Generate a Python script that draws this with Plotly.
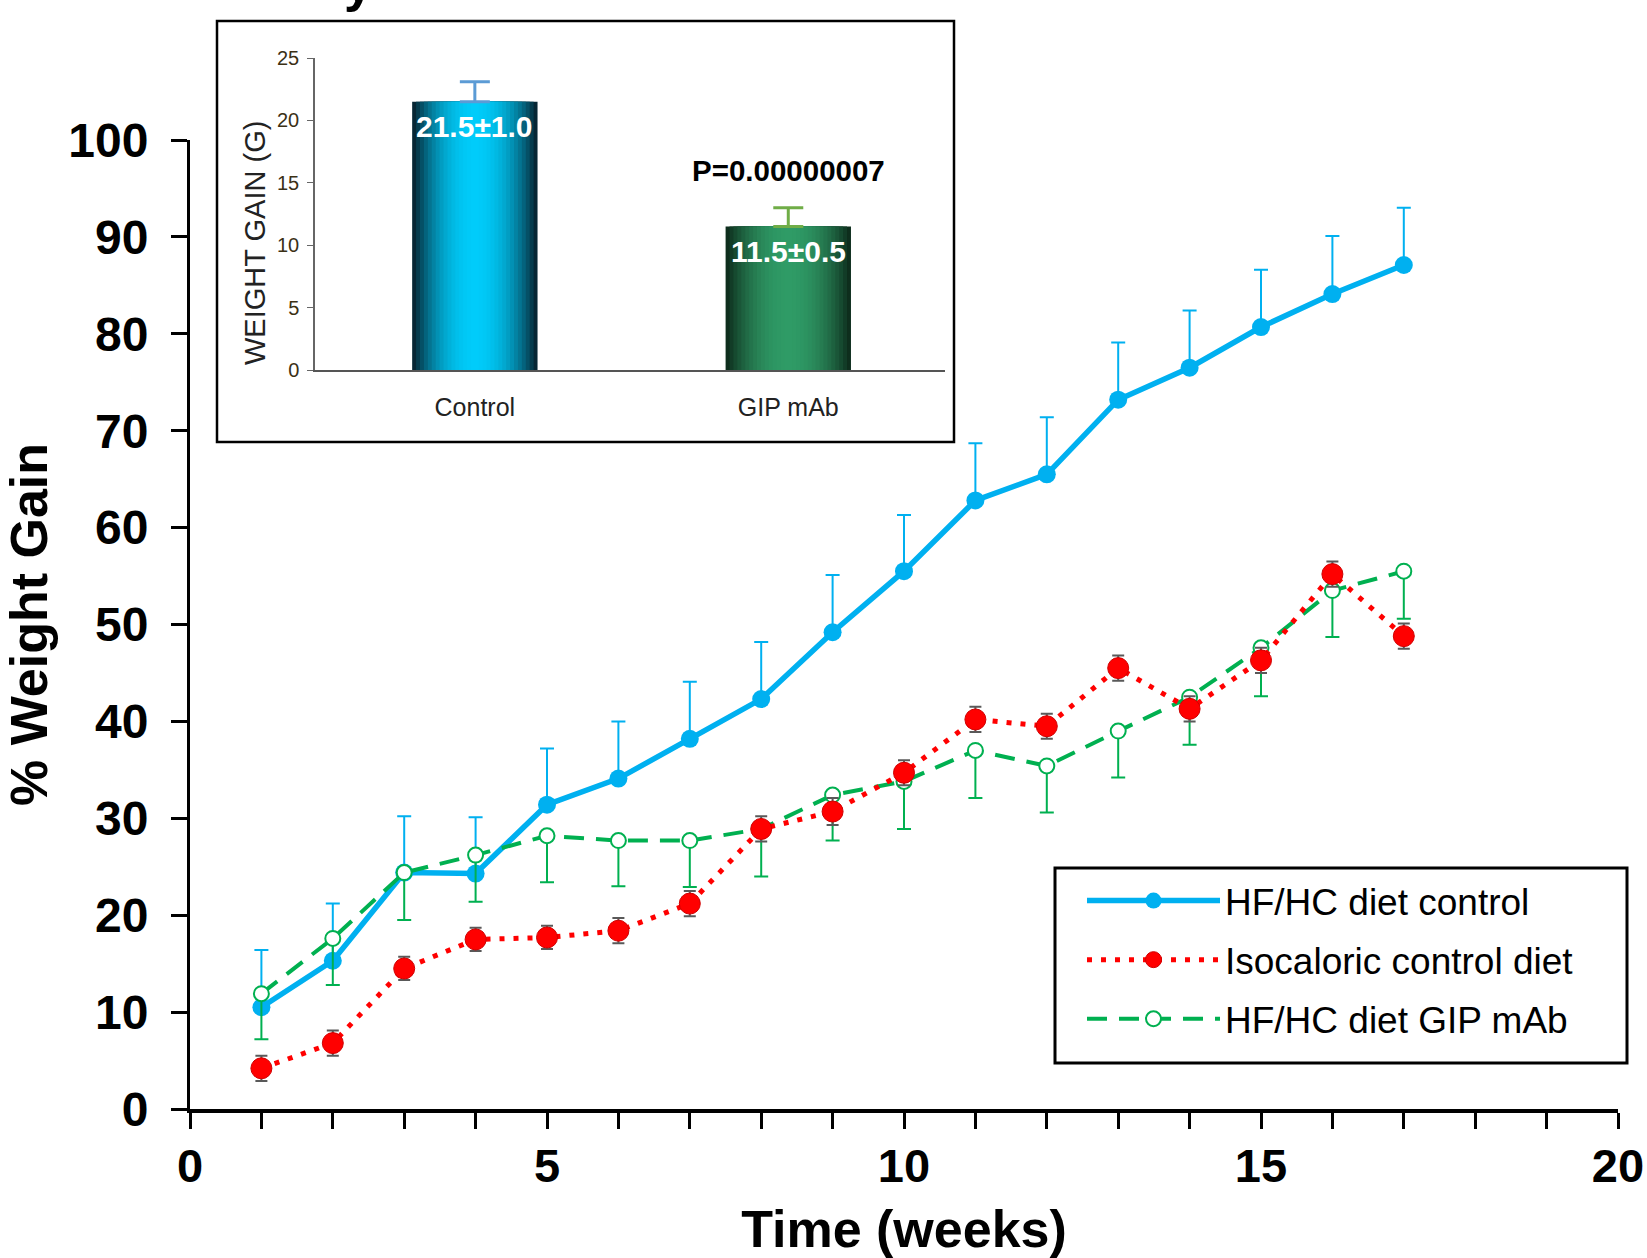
import plotly.graph_objects as go

# ---------------- data ----------------
weeks = list(range(1, 18))
hfhc_control = [10.5, 15.3, 24.4, 24.3, 31.4, 34.1, 38.2, 42.3, 49.2, 55.5, 62.8, 65.5, 73.2, 76.5, 80.7, 84.1, 87.1]
hfhc_control_err = [5.9, 5.9, 5.8, 5.8, 5.8, 5.9, 5.9, 5.9, 5.9, 5.8, 5.9, 5.9, 5.9, 5.9, 5.9, 6.0, 5.9]
isocaloric = [4.2, 6.8, 14.5, 17.5, 17.7, 18.4, 21.2, 28.9, 30.7, 34.7, 40.2, 39.5, 45.5, 41.3, 46.3, 55.2, 48.8]
isocaloric_err = [1.3, 1.3, 1.2, 1.2, 1.2, 1.3, 1.3, 1.3, 1.4, 1.3, 1.3, 1.3, 1.3, 1.3, 1.3, 1.3, 1.3]
gip_mab = [11.9, 17.6, 24.4, 26.2, 28.2, 27.7, 27.7, 28.9, 32.4, 33.8, 37.0, 35.4, 39.0, 42.5, 47.6, 53.5, 55.5]
gip_mab_err = [4.7, 4.8, 4.9, 4.8, 4.8, 4.7, 4.8, 4.9, 4.7, 4.9, 4.9, 4.8, 4.8, 4.9, 5.0, 4.8, 4.9]

series_names = ["HF/HC diet control", "Isocaloric control diet", "HF/HC diet GIP mAb"]

x_tickvals = list(range(0, 21))
x_ticktext = [str(v) if v % 5 == 0 else "" for v in x_tickvals]
y_tickvals = list(range(0, 101, 10))

inset_categories = ["Control", "GIP mAb"]
inset_values = [21.5, 11.5]
inset_err = [1.6, 1.5]
inset_labels = ["21.5±1.0", "11.5±0.5"]
inset_pvalue = "P=0.00000007"
inset_ytitle = "WEIGHT GAIN (G)"
inset_ticks = [0, 5, 10, 15, 20, 25]

# ---------------- layout helpers (pixel -> paper) ----------------
W, H = 1647, 1258
L, R, B = 190, 1618, 1109


def pxx(p):
    return (p - L) / (R - L)


def pxy(p):
    return (B - p) / B


BASE = "Liberation Sans, Arial, sans-serif"

fig = go.Figure()

# ---------------- main chart ----------------
blue = "#00B0F0"
red = "#FF0000"
green = "#00B050"

fig.add_trace(go.Scatter(
    x=weeks, y=hfhc_control, name=series_names[0], mode="lines+markers",
    line=dict(color=blue, width=5.5),
    marker=dict(color=blue, size=18),
    error_y=dict(type="data", symmetric=False, array=hfhc_control_err,
                 arrayminus=[0] * len(weeks), color=blue, thickness=2, width=7),
    legendrank=1, legendgroup="a",
))
fig.add_trace(go.Scatter(
    x=weeks, y=gip_mab, name=series_names[2], mode="lines+markers",
    line=dict(color=green, width=4, dash="20px,12px"),
    marker=dict(color="white", size=15, line=dict(color=green, width=2)),
    error_y=dict(type="data", symmetric=False, array=[0] * len(weeks),
                 arrayminus=gip_mab_err, color=green, thickness=2, width=7),
    legendrank=3, legendgroup="c",
))
fig.add_trace(go.Scatter(
    x=weeks, y=isocaloric, name=series_names[1], mode="lines+markers",
    line=dict(color=red, width=5, dash="5px,9px"),
    marker=dict(color=red, size=21, line=dict(color="#D00000", width=1)),
    error_y=dict(type="data", symmetric=True, array=isocaloric_err,
                 color="#595959", thickness=2, width=6),
    legendrank=2, legendgroup="b",
))

# ---------------- inset bar chart ----------------
def hex2rgb(h):
    h = h.lstrip("#")
    return tuple(int(h[i:i + 2], 16) for i in (0, 2, 4))


def mix(c1, c2, f):
    a, b = hex2rgb(c1), hex2rgb(c2)
    return "rgb(%d,%d,%d)" % tuple(round(a[i] + (b[i] - a[i]) * f) for i in range(3))


bar_styles = [("#00CCFA", "#072634"), ("#2F9B66", "#0E2E1D")]
err_colors = ["#5B9BD5", "#70AD47"]
N = 16
full_w = 0.4
for k, cat in enumerate(inset_categories):
    center_c, edge_c = bar_styles[k]
    for i in range(N):
        t = 1 - i / N
        fig.add_trace(go.Bar(
            x=[cat], y=[inset_values[k]], width=full_w * t,
            marker=dict(color=mix(center_c, edge_c, t ** 2.2), line=dict(width=0)),
            xaxis="x2", yaxis="y2", showlegend=False, hoverinfo="skip",
        ))
    fig.add_trace(go.Bar(
        x=[cat], y=[inset_values[k]], width=full_w,
        marker=dict(color="rgba(0,0,0,0)", line=dict(width=0)),
        error_y=dict(type="data", symmetric=False, array=[inset_err[k]], arrayminus=[0],
                     color=err_colors[k], thickness=3, width=15),
        xaxis="x2", yaxis="y2", showlegend=False,
    ))
    fig.add_annotation(
        x=cat, y=inset_values[k] - 2.0, xref="x2", yref="y2",
        text=inset_labels[k], showarrow=False, yanchor="middle",
        font=dict(family=BASE, size=30, color="white", weight="bold"),
    )

fig.add_annotation(
    x=inset_categories[1], y=inset_values[1] + inset_err[1] + 3.0, xref="x2", yref="y2",
    text=inset_pvalue, showarrow=False, yanchor="middle",
    font=dict(family=BASE, size=29.5, color="black", weight="bold"),
)

fig.add_annotation(
    x=pxx(255), y=pxy(243), xref="paper", yref="paper", text=inset_ytitle,
    showarrow=False, textangle=-90, xanchor="center", yanchor="middle",
    font=dict(family=BASE, size=29, color="#222222"),
)

# inset frame
fig.add_shape(type="rect", xref="paper", yref="paper",
              x0=pxx(217), x1=pxx(954), y0=pxy(442), y1=pxy(21),
              line=dict(color="black", width=2.5), fillcolor="white", layer="below")

# legend frame
fig.add_shape(type="rect", xref="paper", yref="paper",
              x0=pxx(1055), x1=pxx(1627), y0=pxy(1063), y1=pxy(868),
              line=dict(color="black", width=3), fillcolor="rgba(0,0,0,0)", layer="above")

# cropped title glyph at the very top
fig.add_annotation(x=pxx(358), y=pxy(14), xref="paper", yref="paper", text="y",
                   showarrow=False, xanchor="center", yanchor="bottom",
                   font=dict(family=BASE, size=52, color="black", weight="bold"))

fig.update_layout(
    width=W, height=H,
    margin=dict(l=L, r=W - R, t=0, b=H - B, pad=0, autoexpand=False),
    paper_bgcolor="white", plot_bgcolor="white",
    barmode="overlay",
    font=dict(family=BASE, color="black"),
    showlegend=True,
    legend=dict(
        x=pxx(1082), y=pxy(870), xanchor="left", yanchor="top",
        borderwidth=0, bgcolor="rgba(0,0,0,0)",
        font=dict(family=BASE, size=37, color="black"),
        itemwidth=133, traceorder="grouped", tracegroupgap=8,
    ),
    xaxis=dict(
        range=[0, 20], domain=[0, 1], anchor="y", automargin=False,
        tickmode="array", tickvals=x_tickvals, ticktext=x_ticktext,
        ticks="outside", ticklen=16, tickwidth=2.5, tickcolor="black",
        showline=True, linewidth=4, linecolor="black",
        showgrid=False, zeroline=False, ticklabelstandoff=-3,
        tickfont=dict(family=BASE, size=47, color="black", weight="bold"),
        title=dict(text="Time (weeks)", standoff=27,
                   font=dict(family=BASE, size=52, color="black", weight="bold")),
    ),
    yaxis=dict(
        range=[0, 100], domain=[0, pxy(140)], anchor="x", automargin=False,
        tickmode="array", tickvals=y_tickvals,
        ticks="outside", ticklen=16, tickwidth=2.5, tickcolor="black",
        showline=True, linewidth=3, linecolor="black",
        showgrid=False, zeroline=False, ticklabelstandoff=13,
        tickfont=dict(family=BASE, size=48, color="black", weight="bold"),
        title=dict(text="% Weight Gain", standoff=16,
                   font=dict(family=BASE, size=52, color="black", weight="bold")),
    ),
    xaxis2=dict(
        domain=[pxx(315), pxx(945)], anchor="y2", range=[-0.51, 1.5], automargin=False,
        type="category", showline=True, linewidth=1.5, linecolor="#555555",
        ticks="", showgrid=False, zeroline=False, ticklabelstandoff=14,
        tickfont=dict(family=BASE, size=25, color="#222222"),
    ),
    yaxis2=dict(
        domain=[pxy(370), pxy(58)], anchor="x2", range=[0, 25], automargin=False,
        tickmode="array", tickvals=inset_ticks,
        ticks="outside", ticklen=6, tickwidth=1.2, tickcolor="#666666",
        showline=True, linewidth=1.5, linecolor="#666666",
        showgrid=False, zeroline=False, ticklabelstandoff=4,
        tickfont=dict(family=BASE, size=20, color="#3B3015"),
    ),
)

fig.write_html("out.html")
